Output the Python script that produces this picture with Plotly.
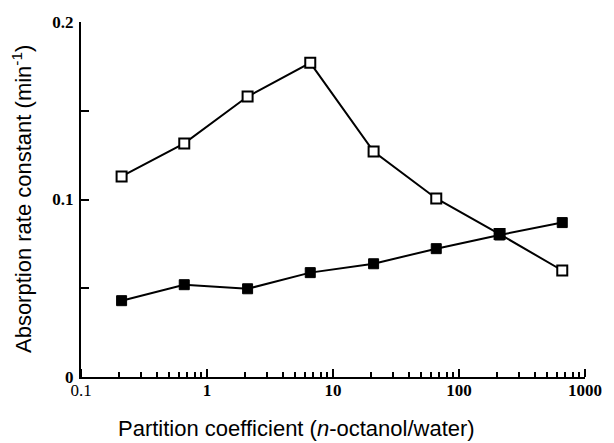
import plotly.graph_objects as go

partition = [0.21, 0.66, 2.1, 6.6, 21, 66, 210, 660]
open_vals = [0.113, 0.1316, 0.158, 0.177, 0.127, 0.1006, 0.0805, 0.060]
filled_vals = [0.043, 0.052, 0.0497, 0.0588, 0.0638, 0.0723, 0.080, 0.087]
x_ticks = [0.1, 1, 10, 100, 1000]
x_ticktext = ["0.1", "<b>1</b>", "<b>10</b>", "<b>100</b>", "<b>1000</b>"]
x_minor = [m * d for d in (0.1, 1, 10, 100) for m in range(2, 10)]
y_ticks = [0, 0.1, 0.2]
y_ticktext = ["<b>0</b>", "<b>0.1</b>", "<b>0.2</b>"]
y_minor = [0.05, 0.15]
x_title = "Partition coefficient (<i>n</i>-octanol/water)"
y_title = "Absorption rate constant (min<sup>-1</sup>)"

fig = go.Figure()
fig.add_trace(go.Scatter(
    x=partition, y=open_vals, mode="lines+markers",
    line=dict(color="black", width=2),
    marker=dict(symbol="square", size=10, color="white", line=dict(color="black", width=2)),
    showlegend=False))
fig.add_trace(go.Scatter(
    x=partition, y=filled_vals, mode="lines+markers",
    line=dict(color="black", width=2),
    marker=dict(symbol="square", size=10, color="black", line=dict(color="black", width=1)),
    showlegend=False))
# invisible traces that carry the overlay axes used for the tick marks
fig.add_trace(go.Scatter(
    x=partition, y=filled_vals, xaxis="x2", yaxis="y2", mode="markers",
    marker=dict(opacity=0), hoverinfo="skip", showlegend=False))
fig.add_trace(go.Scatter(
    x=partition, y=filled_vals, xaxis="x3", yaxis="y", mode="markers",
    marker=dict(opacity=0), hoverinfo="skip", showlegend=False))

tickfont = dict(family="Liberation Serif", size=17, color="black")
titlefont = dict(family="Liberation Sans", size=22, color="black")
fig.update_layout(
    width=614, height=443,
    margin=dict(l=81, r=17, t=22, b=66),
    paper_bgcolor="white", plot_bgcolor="white",
    xaxis=dict(
        type="log", range=[-1, 3],
        tickmode="array", tickvals=x_ticks, ticktext=x_ticktext,
        ticks="inside", ticklen=8, tickwidth=2, tickcolor="black",
        showline=True, linecolor="black", linewidth=2,
        showgrid=False, zeroline=False,
        tickfont=tickfont, ticklabelstandoff=-3,
    ),
    xaxis2=dict(
        type="log", range=[-1, 3], overlaying="x", anchor="free", position=0, side="top",
        tickmode="array", tickvals=x_ticks, showticklabels=False,
        ticks="outside", ticklen=8, tickwidth=2, tickcolor="black",
        showline=False, showgrid=False, zeroline=False,
    ),
    xaxis3=dict(
        type="log", range=[-1, 3], overlaying="x", anchor="free", position=0, side="top",
        tickmode="array", tickvals=x_minor, showticklabels=False,
        ticks="outside", ticklen=5, tickwidth=1.5, tickcolor="black",
        showline=False, showgrid=False, zeroline=False,
    ),
    yaxis=dict(
        range=[0, 0.2],
        tickmode="array", tickvals=y_ticks, ticktext=y_ticktext,
        ticks="inside", ticklen=8, tickwidth=2, tickcolor="black",
        showline=True, linecolor="black", linewidth=2,
        showgrid=False, zeroline=False,
        tickfont=tickfont, ticklabelstandoff=2,
    ),
    yaxis2=dict(
        range=[0, 0.2], overlaying="y", anchor="x", side="left",
        tickmode="array", tickvals=y_minor, showticklabels=False,
        ticks="inside", ticklen=8, tickwidth=2, tickcolor="black",
        showline=False, showgrid=False, zeroline=False,
    ),
    annotations=[
        dict(text=x_title, xref="paper", yref="paper", x=0.428, y=-0.144,
             xanchor="center", yanchor="middle", showarrow=False, font=titlefont),
        dict(text=y_title, xref="paper", yref="paper", x=-0.118, y=0.5, textangle=-90,
             xanchor="center", yanchor="middle", showarrow=False, font=titlefont),
    ],
)
fig.write_html("out.html")
